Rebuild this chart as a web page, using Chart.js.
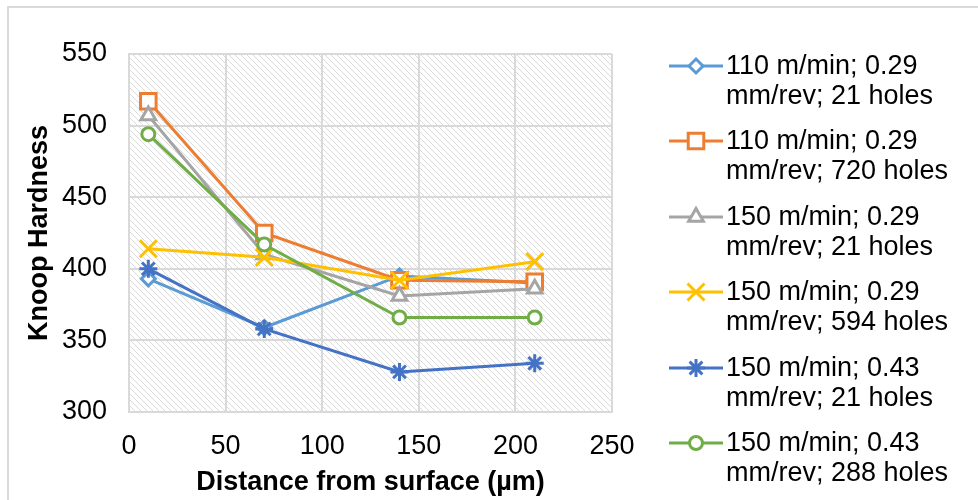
<!DOCTYPE html>
<html><head><meta charset="utf-8">
<script src="https://cdn.jsdelivr.net/npm/chart.js@4"></script>
<style>
html,body{margin:0;padding:0;background:#fff;}
#wrap{position:relative;width:978px;height:500px;overflow:hidden;font-family:"Liberation Sans",Arial,sans-serif;}
#frame{position:absolute;left:7px;top:6px;width:985px;height:505px;border-left:2px solid #d9d9d9;border-top:2px solid #d9d9d9;box-sizing:border-box;}
#c{position:absolute;left:0;top:0;}
.item{position:absolute;left:669px;width:305px;height:62px;}
.item canvas{position:absolute;left:0;top:4px;}
.item .txt{position:absolute;left:57px;top:0;font-size:27px;line-height:30px;color:#000;white-space:nowrap;}
</style>
</head><body>
<div id="wrap">
<div id="frame"></div>
<canvas id="c" width="978" height="500"></canvas>
<div id="legend"></div>
</div>
<script>
// ---- data ----
const distances = [10, 70, 140, 210];
const seriesNames = [
  ["110 m/min; 0.29", "mm/rev; 21 holes"],
  ["110 m/min; 0.29", "mm/rev; 720 holes"],
  ["150 m/min; 0.29", "mm/rev; 21 holes"],
  ["150 m/min; 0.29", "mm/rev; 594 holes"],
  ["150 m/min; 0.43", "mm/rev; 21 holes"],
  ["150 m/min; 0.43", "mm/rev; 288 holes"]
];
const s110_029_21  = [393, 359, 395, 390];
const s110_029_720 = [517, 425, 392, 391];
const s150_029_21  = [507, 410, 381, 386];
const s150_029_594 = [414, 408, 392, 405];
const s150_043_21  = [400, 358, 328, 334];
const s150_043_288 = [494, 417, 366, 366];
const seriesValues = [s110_029_21, s110_029_720, s150_029_21, s150_029_594, s150_043_21, s150_043_288];
const xTicks = [0, 50, 100, 150, 200, 250];
const yTicks = [300, 350, 400, 450, 500, 550];

// ---- styles ----
const colors = ['#5B9BD5', '#ED7D31', '#A5A5A5', '#FFC000', '#4472C4', '#70AD47'];
const pstyles = ['rectRot', 'rect', 'triangle', 'crossRot', 'star', 'circle'];
const pradius = [7, 11, 8.5, 12, 9, 6.5];
const FONT = '"Liberation Sans", Arial, sans-serif';

const datasets = seriesValues.map((vals, i) => ({
  label: seriesNames[i].join(' '),
  data: distances.map((x, k) => ({x: x, y: vals[k]})),
  borderColor: colors[i],
  backgroundColor: '#ffffff',
  borderWidth: 3,
  pointStyle: pstyles[i],
  pointRadius: pradius[i],
  pointBorderWidth: 3,
  pointBorderColor: colors[i],
  pointBackgroundColor: '#ffffff',
  tension: 0,
  order: seriesValues.length - 1 - i
}));

const hatch = {
  id: 'hatch',
  beforeDraw(chart) {
    const {ctx, chartArea: a} = chart;
    const t = document.createElement('canvas');
    t.width = 6; t.height = 6;
    const tc = t.getContext('2d');
    tc.fillStyle = '#dadada';
    for (let i = 0; i < 6; i++) tc.fillRect(i, i, 1, 1);
    ctx.save();
    ctx.fillStyle = ctx.createPattern(t, 'repeat');
    ctx.fillRect(a.left, a.top, a.right - a.left, a.bottom - a.top);
    ctx.restore();
  }
};

const chart = new Chart(document.getElementById('c'), {
  type: 'line',
  data: {datasets: datasets},
  plugins: [hatch],
  options: {
    responsive: false,
    animation: false,
    devicePixelRatio: 1,
    layout: {padding: {left: 0, top: 54, right: 366, bottom: 0}},
    plugins: {legend: {display: false}, tooltip: {enabled: false}},
    scales: {
      x: {
        type: 'linear', min: xTicks[0], max: xTicks[xTicks.length - 1],
        afterBuildTicks: s => { s.ticks = xTicks.map(v => ({value: v})); },
        afterFit: s => { s.height = 88; },
        ticks: {font: {family: FONT, size: 27}, color: '#000', padding: 18, maxRotation: 0},
        grid: {color: '#d9d9d9', lineWidth: 2, drawTicks: false},
        border: {color: '#d9d9d9', width: 2},
        title: {display: true, text: 'Distance from surface (µm)', color: '#000',
                font: {family: FONT, size: 27, weight: 'bold'}, padding: {top: 0, bottom: 1}}
      },
      y: {
        type: 'linear', min: yTicks[0], max: yTicks[yTicks.length - 1],
        afterBuildTicks: s => { s.ticks = yTicks.map(v => ({value: v})); },
        afterFit: s => { s.width = 129; },
        ticks: {font: {family: FONT, size: 27}, color: '#000', padding: 22},
        grid: {color: '#d9d9d9', lineWidth: 2, drawTicks: false},
        border: {color: '#d9d9d9', width: 2},
        title: {display: true, text: 'Knoop Hardness', color: '#000',
                font: {family: FONT, size: 27, weight: 'bold'}, padding: {top: 23, bottom: 0}}
      }
    }
  }
});

// ---- HTML legend ----
function drawMarker(ctx, style, r, x, y, color) {
  if (Chart.helpers && Chart.helpers.drawPoint) {
    ctx.strokeStyle = color; ctx.fillStyle = '#fff'; ctx.lineWidth = 3;
    Chart.helpers.drawPoint(ctx, {pointStyle: style, radius: r, rotation: 0, borderWidth: 3}, x, y);
  }
}
const leg = document.getElementById('legend');
seriesNames.forEach((lines, i) => {
  const d = document.createElement('div');
  d.className = 'item';
  d.style.top = (50 + i * 75.4) + 'px';
  const cv = document.createElement('canvas');
  cv.width = 56; cv.height = 24;
  const cx = cv.getContext('2d');
  cx.strokeStyle = colors[i]; cx.lineWidth = 3;
  cx.beginPath(); cx.moveTo(0, 12); cx.lineTo(54, 12); cx.stroke();
  drawMarker(cx, pstyles[i], pradius[i], 27, 12, colors[i]);
  d.appendChild(cv);
  const t = document.createElement('div');
  t.className = 'txt';
  t.innerHTML = lines[0] + '<br>' + lines[1];
  d.appendChild(t);
  leg.appendChild(d);
});
</script>
</body></html>
